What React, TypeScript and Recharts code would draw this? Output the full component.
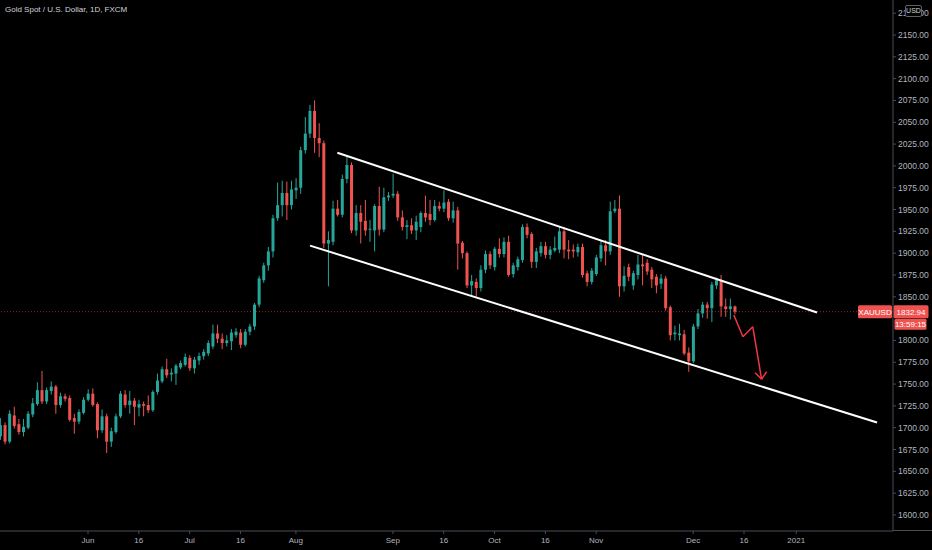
import React from 'react';
import { ComposedChart, Bar, XAxis, YAxis, ReferenceLine } from 'recharts';

// open, high, low, close
type Ohlc = [number, number, number, number];

const mayBars: Ohlc[] = [
  [1690, 1711, 1686, 1703], [1703, 1706, 1681, 1684], [1684, 1720, 1682, 1716], [1714, 1724, 1699, 1702],
  [1704, 1710, 1692, 1695], [1695, 1710, 1690, 1701], [1700, 1719, 1698, 1716], [1715, 1734, 1712, 1728],
  [1727, 1752, 1725, 1743], [1743, 1765, 1727, 1730], [1730, 1746, 1727, 1743], [1742, 1753, 1738, 1747],
  [1747, 1749, 1716, 1726], [1726, 1740, 1723, 1736], [1736, 1739, 1730, 1733], [1734, 1737, 1707, 1709],
  [1711, 1716, 1693, 1707], [1707, 1721, 1704, 1718], [1717, 1735, 1715, 1732],
];

const junBars: Ohlc[] = [
  [1732, 1744, 1730, 1739], [1739, 1745, 1724, 1726], [1727, 1729, 1688, 1697], [1697, 1721, 1694, 1713],
  [1713, 1716, 1671, 1684], [1684, 1700, 1678, 1696], [1695, 1716, 1693, 1713], [1713, 1742, 1711, 1739],
  [1738, 1743, 1723, 1726], [1726, 1742, 1716, 1731], [1731, 1734, 1703, 1724], [1723, 1732, 1713, 1727],
  [1727, 1730, 1713, 1725], [1726, 1737, 1717, 1720], [1720, 1743, 1718, 1741], [1741, 1762, 1738, 1754],
  [1753, 1770, 1751, 1767], [1767, 1779, 1757, 1760], [1761, 1768, 1753, 1763], [1762, 1773, 1749, 1771],
  [1769, 1777, 1767, 1774], [1772, 1785, 1770, 1781],
];

const julBars: Ohlc[] = [
  [1780, 1783, 1765, 1768], [1768, 1781, 1762, 1778], [1777, 1786, 1772, 1782], [1782, 1790, 1778, 1787],
  [1785, 1800, 1782, 1797], [1793, 1818, 1790, 1808], [1808, 1818, 1797, 1802], [1802, 1808, 1790, 1797],
  [1797, 1806, 1793, 1800], [1799, 1813, 1789, 1809], [1806, 1814, 1803, 1810], [1809, 1813, 1791, 1795],
  [1795, 1813, 1793, 1810], [1810, 1819, 1806, 1816], [1816, 1843, 1812, 1841], [1841, 1874, 1838, 1871],
  [1869, 1889, 1866, 1886], [1886, 1907, 1880, 1902], [1902, 1944, 1895, 1940], [1940, 1981, 1937, 1955],
  [1955, 1983, 1942, 1969], [1969, 1982, 1938, 1955], [1955, 1983, 1950, 1973],
];

const augBars: Ohlc[] = [
  [1972, 1986, 1962, 1975], [1975, 2022, 1968, 2018], [2018, 2056, 2014, 2037], [2037, 2070, 2032, 2063],
  [2063, 2075, 2015, 2032], [2032, 2049, 2010, 2026], [2026, 2029, 1906, 1911], [1911, 1925, 1862, 1915],
  [1913, 1960, 1909, 1951], [1951, 1961, 1942, 1944], [1944, 1990, 1941, 1985], [1985, 2011, 1980, 2001],
  [2001, 2004, 1923, 1926], [1926, 1955, 1920, 1946], [1946, 1955, 1911, 1936], [1937, 1961, 1920, 1926],
  [1927, 1938, 1913, 1928], [1926, 1956, 1902, 1954], [1954, 1976, 1920, 1927], [1927, 1975, 1924, 1964],
  [1964, 1970, 1960, 1966],
];

const sepBars: Ohlc[] = [
  [1966, 1991, 1963, 1968], [1968, 1971, 1937, 1941], [1941, 1949, 1926, 1930], [1930, 1938, 1916, 1932],
  [1932, 1940, 1922, 1926], [1926, 1943, 1915, 1936], [1930, 1948, 1924, 1946], [1946, 1966, 1936, 1941],
  [1945, 1961, 1932, 1938], [1938, 1961, 1936, 1954], [1954, 1959, 1948, 1951], [1951, 1972, 1947, 1958],
  [1959, 1962, 1937, 1940], [1940, 1959, 1935, 1949], [1949, 1953, 1881, 1911], [1912, 1914, 1894, 1900],
  [1900, 1902, 1860, 1863], [1863, 1875, 1850, 1868], [1867, 1871, 1850, 1860], [1860, 1886, 1856, 1881],
  [1881, 1903, 1877, 1899], [1899, 1902, 1882, 1886],
];

const octBars: Ohlc[] = [
  [1884, 1907, 1880, 1905], [1905, 1917, 1895, 1899], [1899, 1918, 1895, 1913], [1913, 1920, 1873, 1875],
  [1876, 1889, 1872, 1886], [1884, 1896, 1880, 1893], [1892, 1933, 1889, 1930], [1930, 1934, 1917, 1921],
  [1922, 1924, 1883, 1890], [1890, 1906, 1883, 1902], [1900, 1913, 1896, 1908], [1908, 1913, 1894, 1898],
  [1898, 1908, 1893, 1904], [1903, 1919, 1901, 1906], [1904, 1930, 1900, 1925], [1925, 1930, 1894, 1904],
  [1904, 1915, 1893, 1902], [1904, 1910, 1895, 1902], [1901, 1911, 1896, 1907], [1907, 1911, 1872, 1875],
  [1877, 1880, 1862, 1867], [1867, 1883, 1864, 1880],
];

const novBars: Ohlc[] = [
  [1876, 1898, 1874, 1895], [1894, 1915, 1890, 1909], [1909, 1915, 1886, 1902], [1902, 1959, 1898, 1948],
  [1948, 1961, 1946, 1951], [1951, 1966, 1850, 1862], [1862, 1885, 1856, 1874], [1884, 1888, 1868, 1873],
  [1863, 1880, 1858, 1877], [1875, 1898, 1870, 1887], [1887, 1898, 1863, 1885], [1889, 1893, 1875, 1879],
  [1881, 1884, 1860, 1870], [1873, 1876, 1854, 1863], [1865, 1876, 1859, 1871], [1871, 1874, 1834, 1837],
  [1838, 1840, 1800, 1806], [1807, 1817, 1800, 1809], [1806, 1819, 1800, 1808], [1807, 1812, 1783, 1785],
  [1786, 1792, 1764, 1776],
];

const decBars: Ohlc[] = [
  [1776, 1819, 1774, 1816], [1816, 1836, 1813, 1831], [1831, 1844, 1826, 1841], [1841, 1844, 1825, 1837],
  [1837, 1867, 1821, 1864], [1863, 1872, 1859, 1869], [1869, 1875, 1827, 1839], [1839, 1848, 1827, 1836],
  [1836, 1848, 1824, 1839], [1839, 1840, 1830, 1832.94],
];

// bar index of each date label
const dateTicks = [19, 30, 41, 52, 64, 85, 96, 107, 118, 129, 150, 161, 172.3];
const dateLabels = ['Jun', '16', 'Jul', '16', 'Aug', 'Sep', '16', 'Oct', '16', 'Nov', 'Dec', '16', '2021'];

const priceTicks = [
  1600, 1625, 1650, 1675, 1700, 1725, 1750, 1775, 1800, 1850, 1875, 1900,
  1925, 1950, 1975, 2000, 2025, 2050, 2075, 2100, 2125, 2150, 2175,
];

const lastPrice = 1832.94;
const countdown = '13:59:15';
const symbol = 'XAUUSD';

// drawings, in bar index / price
const upperChannel = [{ x: 72.97, y: 2015.1 }, { x: 176.8, y: 1832.0 }];
const lowerChannel = [{ x: 67.06, y: 1908.6 }, { x: 189.8, y: 1705.9 }];
const arrowPath = [
  { x: 158.8, y: 1829.2 },
  { x: 160.76, y: 1804.3 },
  { x: 162.9, y: 1815.7 },
  { x: 164.8, y: 1755.5 },
];
const arrowHead = [{ x: 163.4, y: 1763 }, { x: 165.9, y: 1764.2 }];

const UP = '#26a69a';
const DOWN = '#ef5350';
const AXIS = '#4a4d56';
const TEXT = '#b2b5be';
const FONT = '"Liberation Sans", Arial, sans-serif';

document.body.style.margin = '0';
document.body.style.background = '#000';

const candles = [...mayBars, ...junBars, ...julBars, ...augBars, ...sepBars, ...octBars, ...novBars, ...decBars].map(
  ([open, high, low, close], i) => ({ i, open, high, low, close, range: [low, high] })
);

function Candle(props: any) {
  const { x, y, width, height, payload } = props;
  if (!payload) return null;
  const { open, high, low, close } = payload;
  const top = Math.min(y, y + height);
  const h = Math.abs(height);
  const k = high - low > 0 ? h / (high - low) : 0;
  const bodyTop = top + (high - Math.max(open, close)) * k;
  const bodyH = Math.max(1, Math.abs(close - open) * k);
  const color = close >= open ? UP : DOWN;
  const cx = x + width / 2;
  return (
    <g>
      <line x1={cx} x2={cx} y1={top} y2={top + h} stroke={color} strokeWidth={1} />
      <rect x={x} y={bodyTop} width={width} height={bodyH} fill={color} />
    </g>
  );
}

function LastPriceTag(props: any) {
  const { viewBox } = props;
  if (!viewBox) return null;
  const right = viewBox.x + viewBox.width;
  const y = viewBox.y;
  return (
    <g fontFamily={FONT}>
      <rect x={right - 35} y={y - 6.5} width={34} height={13} fill={DOWN} rx={1.5} />
      <text x={right - 18} y={y + 0.5} fill="#fff" fontSize={8} textAnchor="middle" dominantBaseline="central">
        {symbol}
      </text>
      <rect x={right + 0.5} y={y - 6.5} width={35} height={13} fill={DOWN} rx={1.5} />
      <text x={right + 18} y={y + 0.5} fill="#fff" fontSize={8} textAnchor="middle" dominantBaseline="central">
        {lastPrice.toFixed(2)}
      </text>
      <rect x={right + 1.5} y={y + 7} width={32} height={11} fill={DOWN} rx={1.5} />
      <text x={right + 17.5} y={y + 12.5} fill="#fff" fontSize={8} textAnchor="middle" dominantBaseline="central">
        {countdown}
      </text>
    </g>
  );
}

export default function App() {
  return (
    <div style={{ position: 'relative', width: 932, height: 550, background: '#000', fontFamily: FONT }}>
      <ComposedChart
        width={932}
        height={550}
        data={candles}
        margin={{ top: 0, right: 0, bottom: 0, left: 0 }}
      >
        <XAxis
          dataKey="i"
          type="number"
          domain={[-0.05, 193.25]}
          allowDataOverflow
          ticks={dateTicks}
          interval={0}
          tickFormatter={(v: number) => dateLabels[dateTicks.indexOf(v)] ?? ''}
          tick={{ fill: TEXT, fontSize: 8, fontFamily: FONT }}
          tickLine={{ stroke: AXIS }}
          axisLine={{ stroke: AXIS }}
          tickSize={3}
          tickMargin={3}
          height={19}
        />
        <YAxis
          orientation="right"
          type="number"
          domain={[1581.6, 2190.1]}
          allowDataOverflow
          ticks={priceTicks}
          interval={0}
          tickFormatter={(v: number) => v.toFixed(2)}
          tick={{ fill: TEXT, fontSize: 8.5, fontFamily: FONT, textAnchor: 'start' }}
          tickLine={{ stroke: AXIS }}
          axisLine={{ stroke: AXIS }}
          tickSize={3}
          tickMargin={2}
          width={39}
        />
        <Bar dataKey="range" barSize={3} shape={<Candle />} isAnimationActive={false} />
        <ReferenceLine
          y={lastPrice}
          stroke={DOWN}
          strokeOpacity={0.55}
          strokeDasharray="1 2"
          label={<LastPriceTag />}
        />
        <ReferenceLine segment={upperChannel} stroke="#ffffff" strokeWidth={2} ifOverflow="visible" />
        <ReferenceLine segment={lowerChannel} stroke="#ffffff" strokeWidth={2} ifOverflow="visible" />
        {arrowPath.slice(1).map((p, k) => (
          <ReferenceLine
            key={`arrow-${k}`}
            segment={[arrowPath[k], p]}
            stroke="#f23645"
            strokeWidth={1.5}
            ifOverflow="visible"
          />
        ))}
        {arrowHead.map((p, k) => (
          <ReferenceLine
            key={`head-${k}`}
            segment={[p, arrowPath[arrowPath.length - 1]]}
            stroke="#f23645"
            strokeWidth={1.5}
            ifOverflow="visible"
          />
        ))}
      </ComposedChart>
      <div
        style={{
          position: 'absolute',
          left: 5,
          top: 5,
          color: '#d1d4dc',
          fontSize: 8,
          whiteSpace: 'nowrap',
        }}
      >
        Gold Spot / U.S. Dollar, 1D, FXCM
      </div>
      {/* time axis line continues under the price scale */}
      <div style={{ position: 'absolute', left: 893, top: 530, width: 39, height: 1, background: AXIS }} />
      <div
        style={{
          position: 'absolute',
          left: 905,
          top: 5,
          width: 15,
          height: 10,
          border: '1px solid #5d606b',
          borderRadius: 2,
          background: '#000',
          color: '#d1d4dc',
          fontSize: 7,
          lineHeight: '10px',
          textAlign: 'center',
        }}
      >
        USD
      </div>
    </div>
  );
}
